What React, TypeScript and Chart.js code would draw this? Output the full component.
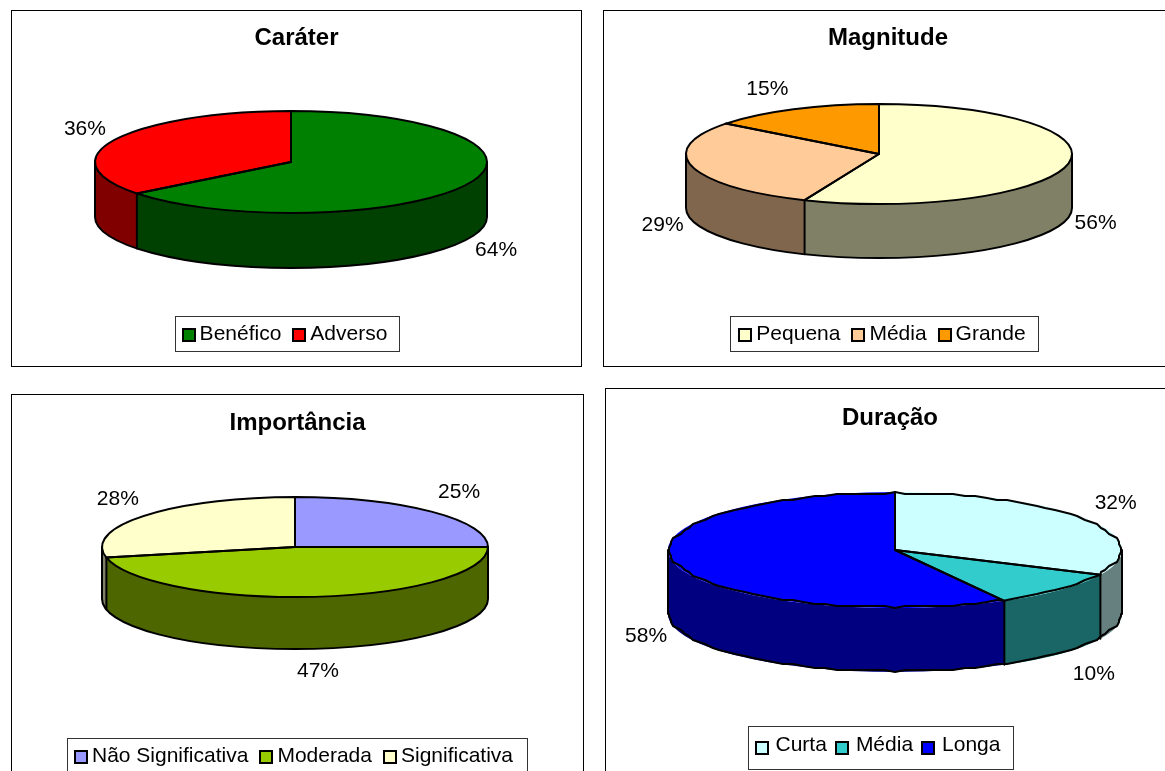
import React, { useEffect, useRef } from "react";
import { Chart, registerables } from "chart.js";

Chart.register(...registerables);

const FONT = "'Liberation Sans', Arial, sans-serif";

// ---- data ----
const caraterLabels = ["Benéfico", "Adverso"];
const caraterValues = [64.4, 35.6];
const caraterColors = ["#008000", "#FF0000"];

const magnitudeLabels = ["Pequena", "Média", "Grande"];
const magnitudeValues = [56.3, 29.1, 14.6];
const magnitudeColors = ["#FFFFCC", "#FFCC99", "#FF9900"];

const importanciaLabels = ["Não Significativa", "Moderada", "Significativa"];
const importanciaValues = [25, 46.6, 28.4];
const importanciaColors = ["#9999FF", "#99CC00", "#FFFFCC"];

const duracaoLabels = ["Curta", "Média", "Longa"];
const duracaoValues = [32, 10, 58];
const duracaoColors = ["#CCFFFF", "#33CCCC", "#0000FF"];

function darker(hex: string) {
  const n = parseInt(hex.slice(1), 16);
  const h = (v: number) => Math.round(v / 2).toString(16).padStart(2, "0");
  return "#" + h((n >> 16) & 255) + h((n >> 8) & 255) + h(n & 255);
}

// Polyline or smooth rim between two angles
function rim(ctx: any, g: any, cy: number, a0: number, a1: number) {
  if (!g.jag) {
    ctx.ellipse(g.cx, cy, g.rx, g.ry, 0, a0, a1);
    return;
  }
  const step = (3 * Math.PI) / 180;
  const k0 = Math.ceil(a0 / step);
  const k1 = Math.floor(a1 / step);
  const pt = (a: number, snap: boolean) => {
    let x = g.rx * Math.cos(a);
    let y = g.ry * Math.sin(a);
    if (snap) {
      y = Math.trunc(y / g.jag) * g.jag;
      x = Math.trunc(x / g.jag) * g.jag;
    }
    ctx.lineTo(g.cx + x, cy + y);
  };
  pt(a0, false);
  for (let k = k0; k <= k1; k++) pt(k * step, true);
  pt(a1, false);
}

const pie3d = {
  id: "pie3d",
  afterLayout(chart: any, _a: any, o: any) {
    const lg = chart.legend;
    lg.left += o.legendShift;
    lg.right += o.legendShift;
    lg.legendHitBoxes.forEach((b: any) => {
      b.left += o.legendShift;
    });
  },
  beforeDatasetsDraw(chart: any, _a: any, o: any) {
    const ctx = chart.ctx;
    const arcs = chart.getDatasetMeta(0).data;
    const cols = chart.data.datasets[0].backgroundColor;
    arcs.forEach((arc: any, i: number) => {
      const a0 = Math.max(arc.startAngle, 0);
      const a1 = Math.min(arc.endAngle, Math.PI);
      if (a1 <= a0) return;
      ctx.beginPath();
      ctx.ellipse(o.cx, o.cy, o.rx, o.ry, 0, a0, a1);
      ctx.ellipse(o.cx, o.cy + o.depth, o.rx, o.ry, 0, a1, a0, true);
      ctx.closePath();
      ctx.fillStyle = darker(cols[i]);
      ctx.fill();
    });
  },
  beforeDatasetDraw(chart: any, _a: any, o: any) {
    const ctx = chart.ctx;
    const arc = chart.getDatasetMeta(0).data[0];
    ctx.save();
    ctx.translate(o.cx, o.cy);
    ctx.scale(o.rx / arc.outerRadius, o.ry / arc.outerRadius);
    ctx.translate(-arc.x, -arc.y);
  },
  afterDatasetDraw(chart: any, _a: any, o: any) {
    const ctx = chart.ctx;
    ctx.restore();
    const arcs = chart.getDatasetMeta(0).data;
    const vals = chart.data.datasets[0].data;
    const total = vals.reduce((s: number, v: number) => s + v, 0);
    ctx.save();
    ctx.strokeStyle = "#000";
    ctx.lineWidth = o.lineWidth;
    ctx.lineJoin = "round";
    ctx.lineCap = "round";
    // Side wall outline
    ctx.beginPath();
    ctx.moveTo(o.cx + o.rx, o.cy);
    ctx.lineTo(o.cx + o.rx, o.cy + o.depth);
    rim(ctx, o, o.cy + o.depth, 0, Math.PI);
    ctx.lineTo(o.cx - o.rx, o.cy);
    ctx.stroke();
    // Front slice edges
    arcs.forEach((arc: any) => {
      const s = Math.sin(arc.endAngle);
      if (s > 0.02) {
        const x = o.cx + o.rx * Math.cos(arc.endAngle);
        const y = o.cy + o.ry * s;
        ctx.beginPath();
        ctx.moveTo(x, y);
        ctx.lineTo(x, y + o.depth);
        ctx.stroke();
      }
    });
    // Top wedges
    arcs.forEach((arc: any) => {
      ctx.beginPath();
      ctx.moveTo(o.cx, o.cy);
      rim(ctx, o, o.cy, arc.startAngle, arc.endAngle);
      ctx.closePath();
      ctx.stroke();
    });
    ctx.restore();
    // Percent labels
    ctx.save();
    ctx.fillStyle = "#000";
    ctx.font = `21px ${FONT}`;
    ctx.textAlign = "center";
    ctx.textBaseline = "middle";
    arcs.forEach((arc: any, i: number) => {
      const a = (arc.startAngle + arc.endAngle) / 2;
      const c = Math.cos(a);
      const s = Math.sin(a);
      const nudge = o.nudges[i];
      const x = o.cx + o.rx * c + 32 * c + nudge[0];
      const y = o.cy + o.ry * s + (s > 0 ? o.depth : 0) + 22 * s + nudge[1];
      ctx.fillText(Math.round((vals[i] / total) * 100) + "%", x, y);
    });
    ctx.restore();
  },
  afterDraw(chart: any, _a: any, o: any) {
    const ctx = chart.ctx;
    const hb = chart.legend.legendHitBoxes;
    const cols = chart.data.datasets[0].backgroundColor;
    ctx.save();
    // Chart frame
    ctx.strokeStyle = "#000";
    ctx.lineWidth = 1;
    ctx.strokeRect(0.5, 0.5, chart.width - 1, chart.height - 1);
    // Legend frame and swatches
    const first = hb[0];
    const last = hb[hb.length - 1];
    const mid = first.top + first.height / 2;
    const fx = Math.round(first.left + o.swatchDx - o.legendPadLeft) + 0.5;
    const fx2 = Math.round(last.left + last.width + o.legendPadRight) + 0.5;
    const fy = Math.round(mid - o.legendH / 2) + 0.5 + o.frameDy;
    ctx.strokeStyle = "#333";
    ctx.strokeRect(fx, fy, fx2 - fx, o.legendH);
    hb.forEach((b: any, i: number) => {
      const top = Math.round(mid - 7) + o.swatchDy;
      const left = Math.round(b.left) + o.swatchDx;
      ctx.fillStyle = cols[i];
      ctx.strokeStyle = "#000";
      ctx.lineWidth = 2;
      ctx.fillRect(left + 1, top + 1, 12, 12);
      ctx.strokeRect(left + 1, top + 1, 12, 12);
    });
    ctx.restore();
  },
};

type Cfg = {
  title: string;
  labels: string[];
  values: number[];
  colors: string[];
  left: number;
  top: number;
  width: number;
  height: number;
  paddingBottom: number;
  titlePad: number;
  geo: any;
};

const CHARTS: Cfg[] = [
  {
    title: "Caráter", labels: caraterLabels, values: caraterValues, colors: caraterColors,
    left: 11, top: 10, width: 571, height: 357, paddingBottom: 12, titlePad: 14,
    geo: { cx: 280, cy: 152, rx: 196, ry: 51, depth: 55, lineWidth: 2, jag: 0, legendShift: -12, legendH: 35, legendPadLeft: 7, legendPadRight: 12, swatchDy: 0, swatchDx: 0, frameDy: -1, nudges: [[0, 1], [-1, -1]] },
  },
  {
    title: "Magnitude", labels: magnitudeLabels, values: magnitudeValues, colors: magnitudeColors,
    left: 603, top: 10, width: 570, height: 357, paddingBottom: 12, titlePad: 14,
    geo: { cx: 276, cy: 144, rx: 193, ry: 50, depth: 54, lineWidth: 2, jag: 0, legendShift: -6, legendH: 35, legendPadLeft: 8, legendPadRight: 12, swatchDy: 0, swatchDx: 0, frameDy: -1, nudges: [[-4, 1], [1, -1], [-12, 0]] },
  },
  {
    title: "Importância", labels: importanciaLabels, values: importanciaValues, colors: importanciaColors,
    left: 11, top: 394, width: 573, height: 400, paddingBottom: 17, titlePad: 15,
    geo: { cx: 284, cy: 153, rx: 193, ry: 50, depth: 52, lineWidth: 2, jag: 0, legendShift: -4, legendH: 38, legendPadLeft: 7, legendPadRight: 14, swatchDy: 0, swatchDx: 0, frameDy: 0, nudges: [[5, -4], [-1, 1], [-2, -3]] },
  },
  {
    title: "Duração", labels: duracaoLabels, values: duracaoValues, colors: duracaoColors,
    left: 605, top: 388, width: 570, height: 400, paddingBottom: 22, titlePad: 16,
    geo: { cx: 290, cy: 162, rx: 227, ry: 58, depth: 64, lineWidth: 2, jag: 2, legendShift: -11, legendH: 43, legendPadLeft: 7, legendPadRight: 13, swatchDy: 2, swatchDx: -3, frameDy: 2, nudges: [[2, -4], [10, 5], [2, 2]] },
  },
];

function Pie3D({ cfg }: { cfg: Cfg }) {
  const ref = useRef<HTMLCanvasElement | null>(null);
  useEffect(() => {
    const chart = new Chart(ref.current as HTMLCanvasElement, {
      type: "pie",
      data: {
        labels: cfg.labels,
        datasets: [
          { data: cfg.values, backgroundColor: cfg.colors, borderWidth: 0, clip: false } as any,
        ],
      },
      plugins: [pie3d as any],
      options: {
        responsive: false,
        animation: false,
        events: [],
        layout: { padding: { bottom: cfg.paddingBottom } },
        plugins: {
          tooltip: { enabled: false },
          title: {
            display: true,
            text: cfg.title,
            color: "#000",
            font: { family: FONT, size: 24, weight: "bold" },
            padding: { top: cfg.titlePad, bottom: 10 },
          },
          legend: {
            position: "bottom",
            labels: {
              font: { family: FONT, size: 21 },
              color: "#000",
              boxWidth: 7.5,
              boxHeight: 14,
              padding: 11,
              generateLabels: (c: any) =>
                (Chart as any).overrides.pie.plugins.legend.labels.generateLabels(c).map((l: any) => ({
                  ...l,
                  fillStyle: "rgba(0,0,0,0)",
                  strokeStyle: "rgba(0,0,0,0)",
                  lineWidth: 0,
                })),
            },
          },
          pie3d: cfg.geo,
        } as any,
      },
    });
    return () => chart.destroy();
  }, [cfg]);
  return (
    <canvas
      ref={ref}
      width={cfg.width}
      height={cfg.height}
      style={{ position: "absolute", left: cfg.left, top: cfg.top }}
    />
  );
}

export default function App() {
  return (
    <div style={{ position: "fixed", left: 0, top: 0, width: 1165, height: 771, overflow: "hidden", background: "#fff" }}>
      {CHARTS.map((c) => (
        <Pie3D key={c.title} cfg={c} />
      ))}
    </div>
  );
}
